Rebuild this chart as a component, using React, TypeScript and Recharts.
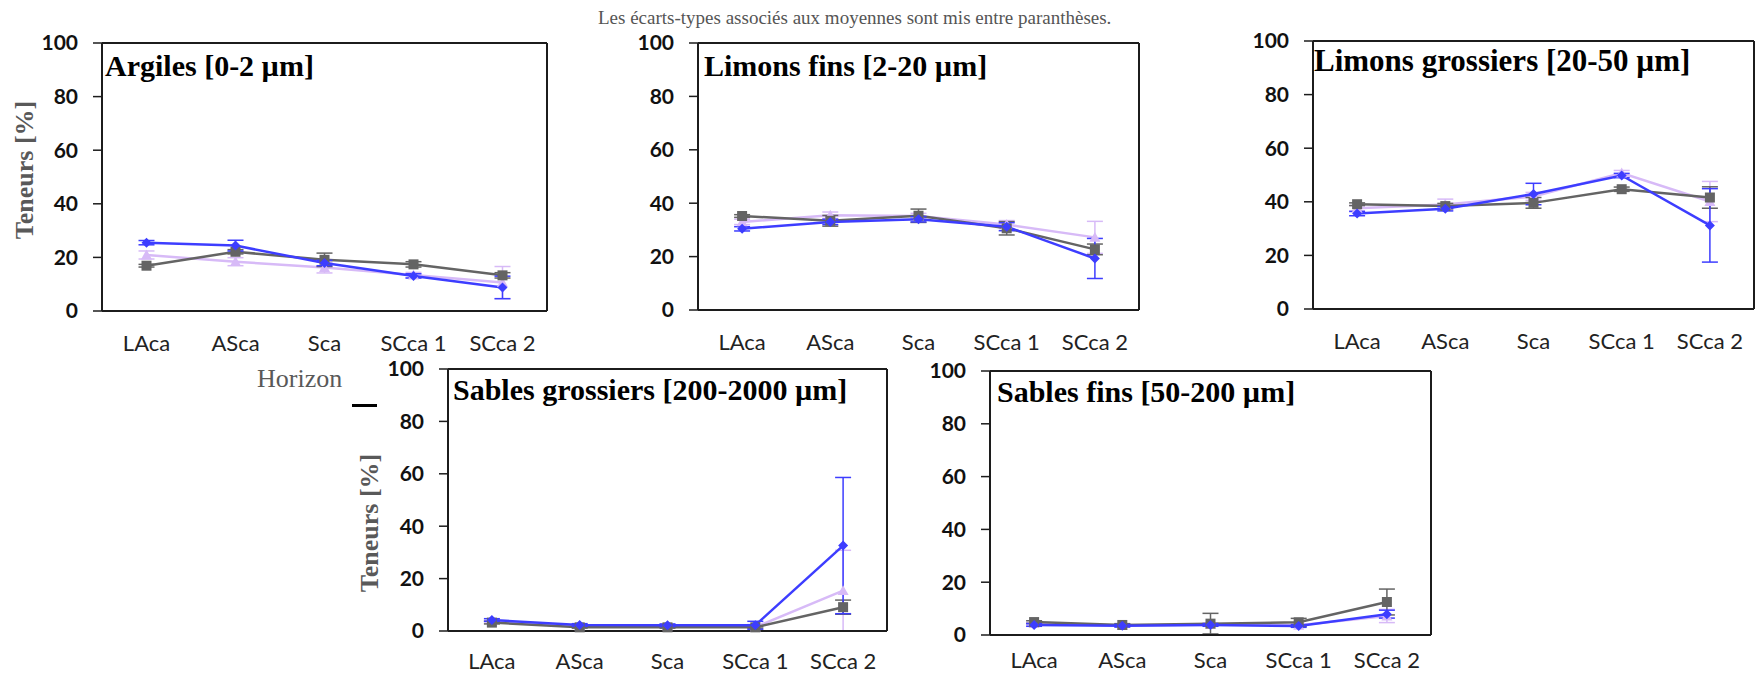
import React from 'react';
import { LineChart, Line, XAxis, YAxis, CartesianGrid, ErrorBar } from 'recharts';

const horizons = ['LAca', 'ASca', 'Sca', 'SCca 1', 'SCca 2'];
const yTicks = [0, 20, 40, 60, 80, 100];

// Argiles [0-2 µm]
const argilesBleu = [25.5, 24.4, 17.9, 13.1, 8.8];
const argilesBleuEt = [0.8, 2.0, 1.0, 0.8, 4.2];
const argilesGris = [16.9, 22.1, 19.1, 17.4, 13.3];
const argilesGrisEt = [0.5, 0.8, 2.5, 1.0, 1.0];
const argilesMauve = [20.9, 18.4, 16.2, 13.4, 10.6];
const argilesMauveEt = [1.5, 1.5, 2.0, 1.0, 6.0];

// Limons fins [2-20 µm]
const lfBleu = [30.4, 33.0, 34.0, 31.2, 19.3];
const lfBleuEt = [0.8, 1.0, 1.0, 1.5, 7.5];
const lfGris = [35.2, 33.4, 35.3, 30.6, 22.7];
const lfGrisEt = [0.5, 2.0, 2.5, 2.5, 2.0];
const lfMauve = [33.0, 35.5, 35.2, 32.0, 27.2];
const lfMauveEt = [1.0, 1.2, 1.0, 1.5, 6.0];

// Limons grossiers [20-50 µm]
const lgBleu = [35.6, 37.4, 42.9, 49.8, 31.2];
const lgBleuEt = [0.8, 0.8, 4.0, 0.8, 13.7];
const lgGris = [39.1, 38.4, 39.6, 44.7, 41.6];
const lgGrisEt = [0.5, 1.0, 2.0, 0.8, 4.0];
const lgMauve = [37.6, 39.0, 42.0, 50.7, 40.1];
const lgMauveEt = [1.0, 2.0, 1.5, 1.0, 7.5];

// Sables grossiers [200-2000 µm]
const sgBleu = [4.2, 2.3, 2.2, 2.2, 32.6];
const sgBleuEt = [0.5, 0.5, 0.5, 1.5, 26.0];
const sgGris = [3.2, 1.4, 1.4, 1.4, 9.1];
const sgGrisEt = [0.5, 0.3, 0.3, 0.3, 2.7];
const sgMauve = [3.5, 2.0, 2.0, 1.5, 15.4];
const sgMauveEt = [0.5, 0.5, 0.5, 1.0, 15.4];

// Sables fins [50-200 µm]
const sfBleu = [3.8, 3.5, 3.8, 3.4, 7.9];
const sfBleuEt = [0.5, 0.5, 0.5, 0.5, 1.5];
const sfGris = [4.9, 3.8, 4.3, 4.8, 12.5];
const sfGrisEt = [0.5, 0.5, 3.9, 1.5, 4.9];
const sfMauve = [4.3, 3.6, 4.0, 3.7, 7.2];
const sfMauveEt = [0.5, 0.5, 0.5, 0.5, 2.5];

const BLEU = '#3d3dff';
const GRIS = '#646464';
const MAUVE = '#d7baf7';
const SERIF = '"Liberation Serif", "Times New Roman", serif';
const SANS = 'Lato, Carlito, Calibri, sans-serif';

function rows(b: number[], be: number[], g: number[], ge: number[], m: number[], me: number[]) {
  return horizons.map((h, i) => ({
    horizon: h,
    bleu: b[i], bleuEt: be[i],
    gris: g[i], grisEt: ge[i],
    mauve: m[i], mauveEt: me[i],
  }));
}

const diamond = (props: any) => {
  const { cx, cy, index } = props;
  if (cx == null || cy == null) return <g key={'d' + index} />;
  const r = 5;
  return <path key={'d' + index} d={`M${cx},${cy - r}L${cx + r},${cy}L${cx},${cy + r}L${cx - r},${cy}Z`} fill={BLEU} />;
};
const square = (props: any) => {
  const { cx, cy, index } = props;
  if (cx == null || cy == null) return <g key={'s' + index} />;
  const r = 5;
  return <rect key={'s' + index} x={cx - r} y={cy - r} width={2 * r} height={2 * r} fill={GRIS} />;
};
const triangle = (props: any) => {
  const { cx, cy, index } = props;
  if (cx == null || cy == null) return <g key={'t' + index} />;
  const r = 5.5;
  return <path key={'t' + index} d={`M${cx},${cy - r}L${cx + r},${cy + r * 0.8}L${cx - r},${cy + r * 0.8}Z`} fill={MAUVE} />;
};

const YW = 70;
const XH = 56;
const MT = 14;
const MR = 4;

type Box = { l: number; t: number; r: number; b: number };

function Panel({ box, title, tx, tb, ts, xm, data }: { box: Box; title: string; tx: number; tb: number; ts: number; xm: number; data: any[] }) {
  const w = box.r - box.l;
  const h = box.b - box.t;
  return (
    <>
      <div style={{ position: 'absolute', left: box.l - YW, top: box.t - MT }}>
        <LineChart width={w + YW + MR} height={h + MT + XH} data={data} margin={{ top: MT, right: MR, left: 0, bottom: 0 }}>
          <CartesianGrid
            stroke="#1c1c1c"
            strokeWidth={2}
            horizontalCoordinatesGenerator={({ offset }: any) => [offset.top, offset.top + offset.height]}
            verticalCoordinatesGenerator={({ offset }: any) => [offset.left, offset.left + offset.width]}
          />
          <XAxis
            dataKey="horizon"
            height={XH}
            interval={0}
            padding={{ left: w / 10, right: w / 10 }}
            tickLine={false}
            tickSize={0}
            tickMargin={xm}
            axisLine={{ stroke: '#1c1c1c', strokeWidth: 2 }}
            tick={{ fill: '#222', fontSize: 22, fontFamily: SANS }}
          />
          <YAxis
            width={YW}
            type="number"
            domain={[0, 100]}
            ticks={yTicks}
            interval={0}
            tickSize={9}
            tickMargin={15}
            axisLine={{ stroke: '#1c1c1c', strokeWidth: 2 }}
            tickLine={{ stroke: '#1c1c1c', strokeWidth: 1.5 }}
            tick={{ fill: '#111', fontSize: 21, fontWeight: 700, fontFamily: SANS }}
          />
          <Line dataKey="mauve" stroke={MAUVE} strokeWidth={2.5} dot={triangle} activeDot={false} isAnimationActive={false}>
            <ErrorBar dataKey="mauveEt" direction="y" width={8} stroke={MAUVE} strokeWidth={1.5} />
          </Line>
          <Line dataKey="gris" stroke={GRIS} strokeWidth={2.5} dot={square} activeDot={false} isAnimationActive={false}>
            <ErrorBar dataKey="grisEt" direction="y" width={8} stroke={GRIS} strokeWidth={1.5} />
          </Line>
          <Line dataKey="bleu" stroke={BLEU} strokeWidth={2.5} dot={diamond} activeDot={false} isAnimationActive={false}>
            <ErrorBar dataKey="bleuEt" direction="y" width={8} stroke={BLEU} strokeWidth={1.5} />
          </Line>
        </LineChart>
      </div>
      <div
        style={{
          position: 'absolute', left: tx, top: tb - 0.8375 * ts, fontFamily: SERIF, fontWeight: 700,
          fontSize: ts, lineHeight: 1, color: '#000', whiteSpace: 'nowrap',
        }}
      >
        {title}
      </div>
    </>
  );
}

function YTitle({ cx, cy }: { cx: number; cy: number }) {
  return (
    <div
      style={{
        position: 'absolute', left: cx, top: cy, transform: 'translate(-50%, -50%) rotate(-90deg)',
        fontFamily: SERIF, fontWeight: 700, fontSize: 26, lineHeight: 1, color: '#595959', whiteSpace: 'nowrap',
      }}
    >
      Teneurs [%]
    </div>
  );
}

export default function App() {
  return (
    <div style={{ position: 'absolute', left: 0, top: 0, width: 1757, height: 677, background: '#fff', overflow: 'hidden' }}>
      <div
        style={{
          position: 'absolute', left: 598, top: 24 - 0.8375 * 19, fontFamily: SERIF, fontSize: 19,
          lineHeight: 1, color: '#555', whiteSpace: 'nowrap',
        }}
      >
        Les écarts-types associés aux moyennes sont mis entre paranthèses.
      </div>
      <Panel box={{ l: 102, t: 43, r: 547, b: 311 }} title="Argiles [0-2 µm]" tx={105} tb={76} ts={30} xm={24}
        data={rows(argilesBleu, argilesBleuEt, argilesGris, argilesGrisEt, argilesMauve, argilesMauveEt)} />
      <Panel box={{ l: 698, t: 43, r: 1139, b: 310 }} title="Limons fins [2-20 µm]" tx={704} tb={76} ts={30} xm={24}
        data={rows(lfBleu, lfBleuEt, lfGris, lfGrisEt, lfMauve, lfMauveEt)} />
      <Panel box={{ l: 1313, t: 41, r: 1754, b: 309 }} title="Limons grossiers [20-50 µm]" tx={1314} tb={71} ts={31} xm={24}
        data={rows(lgBleu, lgBleuEt, lgGris, lgGrisEt, lgMauve, lgMauveEt)} />
      <Panel box={{ l: 448, t: 369, r: 887, b: 631 }} title="Sables grossiers [200-2000 µm]" tx={453} tb={400} ts={30} xm={22}
        data={rows(sgBleu, sgBleuEt, sgGris, sgGrisEt, sgMauve, sgMauveEt)} />
      <Panel box={{ l: 990, t: 371, r: 1431, b: 635 }} title="Sables fins [50-200 µm]" tx={997} tb={402} ts={30} xm={17}
        data={rows(sfBleu, sfBleuEt, sfGris, sfGrisEt, sfMauve, sfMauveEt)} />
      <YTitle cx={25} cy={170} />
      <YTitle cx={370} cy={523} />
      <div
        style={{
          position: 'absolute', left: 257, top: 388 - 0.8375 * 26, fontFamily: SERIF, fontSize: 26,
          lineHeight: 1, color: '#595959', whiteSpace: 'nowrap',
        }}
      >
        Horizon
      </div>
      <div style={{ position: 'absolute', left: 352, top: 404, width: 25, height: 3, background: '#000' }} />
    </div>
  );
}
